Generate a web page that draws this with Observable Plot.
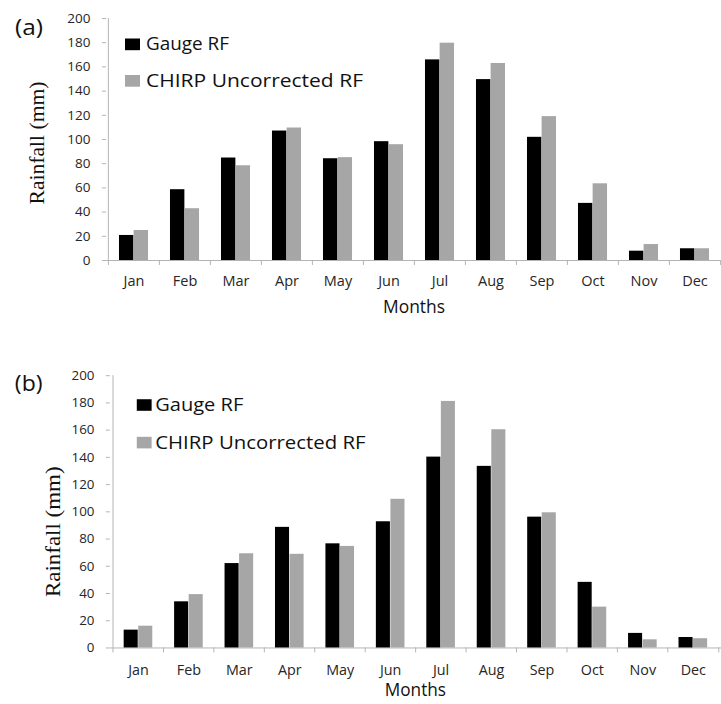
<!DOCTYPE html>
<html>
<head>
<meta charset="utf-8">
<script src="https://cdn.jsdelivr.net/npm/d3@7"></script>
<script src="https://cdn.jsdelivr.net/npm/@observablehq/plot@0.6"></script>
<style>
  html, body { margin: 0; padding: 0; background: #fff; overflow: hidden; }
  #wrap { position: relative; width: 721px; height: 704px; overflow: hidden; background: #fff; }
  #wrap svg { position: absolute; left: 0; }
</style>
</head>
<body>
<div id="wrap"></div>
<script>
// ---- data ----
const months = ["Jan","Feb","Mar","Apr","May","Jun","Jul","Aug","Sep","Oct","Nov","Dec"];
const seriesNames = ["Gauge RF", "CHIRP Uncorrected RF"];
const yTicks = [0, 20, 40, 60, 80, 100, 120, 140, 160, 180, 200];

// panel (a)
const gaugeA = [20.7, 58.5, 84.7, 107, 84.1, 98.2, 165.8, 149.5, 101.8, 47.2, 7.7, 9.7];
const chirpA = [24.8, 42.8, 78.3, 109.5, 85, 95.7, 179.6, 162.8, 118.9, 63.4, 13.2, 9.7];
// panel (b)
const gaugeB = [13.1, 33.9, 62, 88.6, 76.5, 92.7, 140.2, 133.4, 96.1, 48.2, 10.7, 7.7];
const chirpB = [16, 39.2, 69.2, 68.8, 74.6, 109.2, 181.1, 160.3, 99.3, 30, 6, 6.8];

const colors = ["#000000", "#a6a6a6"];
const axisColor = "#b4b4b4";
const wrap = document.getElementById("wrap");

function panel(cfg) {
  const step = (cfg.width - cfg.marginLeft - cfg.marginRight) / months.length;
  const b = step / 3.5; // Excel gap width 150%
  const svg = Plot.plot({
    width: cfg.width,
    height: cfg.height,
    marginLeft: cfg.marginLeft,
    marginRight: cfg.marginRight,
    marginTop: cfg.marginTop,
    marginBottom: cfg.marginBottom,
    style: {fontFamily: "'Open Sans', sans-serif", color: "#262626", background: "transparent", overflow: "hidden"},
    x: {type: "band", domain: months, padding: 0, label: null},
    y: {domain: [0, 200], label: null},
    marks: [
      Plot.ruleX([months[0]], {dx: -step / 2, stroke: axisColor, strokeWidth: 1}),
      Plot.ruleY([0], {stroke: axisColor, strokeWidth: 1}),
      Plot.axisY({ticks: yTicks, tickSize: 4, tickPadding: 12, fontSize: 13.5, stroke: axisColor, label: null}),
      Plot.axisX({ticks: months, tickSize: 5, tickFormat: () => "", dx: -step / 2, stroke: axisColor, label: null}),
      Plot.axisX({ticks: [months[11]], tickSize: 5, tickFormat: () => "", dx: step / 2, stroke: axisColor, label: null}),
      Plot.axisX({ticks: months, tickSize: 0, tickPadding: cfg.labelPad, fontSize: 14.5, label: null}),
      Plot.barY(months, {x: months, y: cfg.gauge, fill: colors[0], insetLeft: 0.75 * b, insetRight: 1.75 * b}),
      Plot.barY(months, {x: months, y: cfg.chirp, fill: colors[1], insetLeft: 1.75 * b, insetRight: 0.75 * b})
    ]
  });
  svg.style.top = cfg.top + "px";
  const s = d3.select(svg);

  // panel letter
  s.append("text").attr("x", 15).attr("y", cfg.letterY).attr("text-anchor", "start")
    .attr("font-family", "'Open Sans', sans-serif").attr("font-size", 22).attr("fill", "#111")
    .attr("textLength", 28).attr("lengthAdjust", "spacingAndGlyphs").text(cfg.letter);

  // y title
  s.append("text")
    .attr("transform", `translate(${cfg.yTitleX},${cfg.yTitleY}) rotate(-90)`)
    .attr("text-anchor", "middle")
    .attr("font-family", "'Liberation Serif', 'Times New Roman', serif").attr("font-size", cfg.yTitleSize).attr("fill", "#111")
    .attr("textLength", cfg.yTitleLen).attr("lengthAdjust", "spacingAndGlyphs")
    .text("Rainfall (mm)");

  // x title
  s.append("text").attr("x", cfg.xTitleX).attr("y", cfg.xTitleY).attr("text-anchor", "middle")
    .attr("font-family", "'Open Sans', sans-serif").attr("font-size", 17.5).attr("fill", "#111")
    .attr("textLength", 62).attr("lengthAdjust", "spacingAndGlyphs")
    .text("Months");

  // legend
  cfg.legend.forEach((L, i) => {
    s.append("rect").attr("x", L.rx).attr("y", L.ry).attr("width", 15).attr("height", 11.7).attr("fill", colors[i]);
    s.append("text").attr("x", L.tx).attr("y", L.ty).attr("text-anchor", "start")
      .attr("font-family", "'Open Sans', sans-serif").attr("font-size", 19).attr("fill", "#111")
      .attr("textLength", L.len).attr("lengthAdjust", "spacingAndGlyphs")
      .text(seriesNames[i]);
  });
  wrap.appendChild(svg);
}

panel({
  top: 0, width: 721, height: 330,
  marginLeft: 106, marginRight: 0, marginTop: 18, marginBottom: 70,
  labelPad: 15, gauge: gaugeA, chirp: chirpA,
  letter: "(a)", letterY: 35,
  yTitleX: 44, yTitleY: 143, yTitleSize: 21, yTitleLen: 123,
  xTitleX: 414, xTitleY: 313,
  legend: [
    {rx: 125, ry: 38.5, tx: 146, ty: 50, len: 83},
    {rx: 125, ry: 75, tx: 146, ty: 87, len: 217}
  ]
});

panel({
  top: 330, width: 729, height: 374,
  marginLeft: 111, marginRight: 0, marginTop: 45.7, marginBottom: 53,
  labelPad: 17, gauge: gaugeB, chirp: chirpB,
  letter: "(b)", letterY: 62,
  yTitleX: 60.5, yTitleY: 204, yTitleSize: 21, yTitleLen: 132,
  xTitleX: 420, xTitleY: 370,
  legend: [
    {rx: 138.3, ry: 70, tx: 157, ty: 81.7, len: 89},
    {rx: 138.3, ry: 108, tx: 157, ty: 120.7, len: 212.6}
  ]
});
</script>
</body>
</html>
